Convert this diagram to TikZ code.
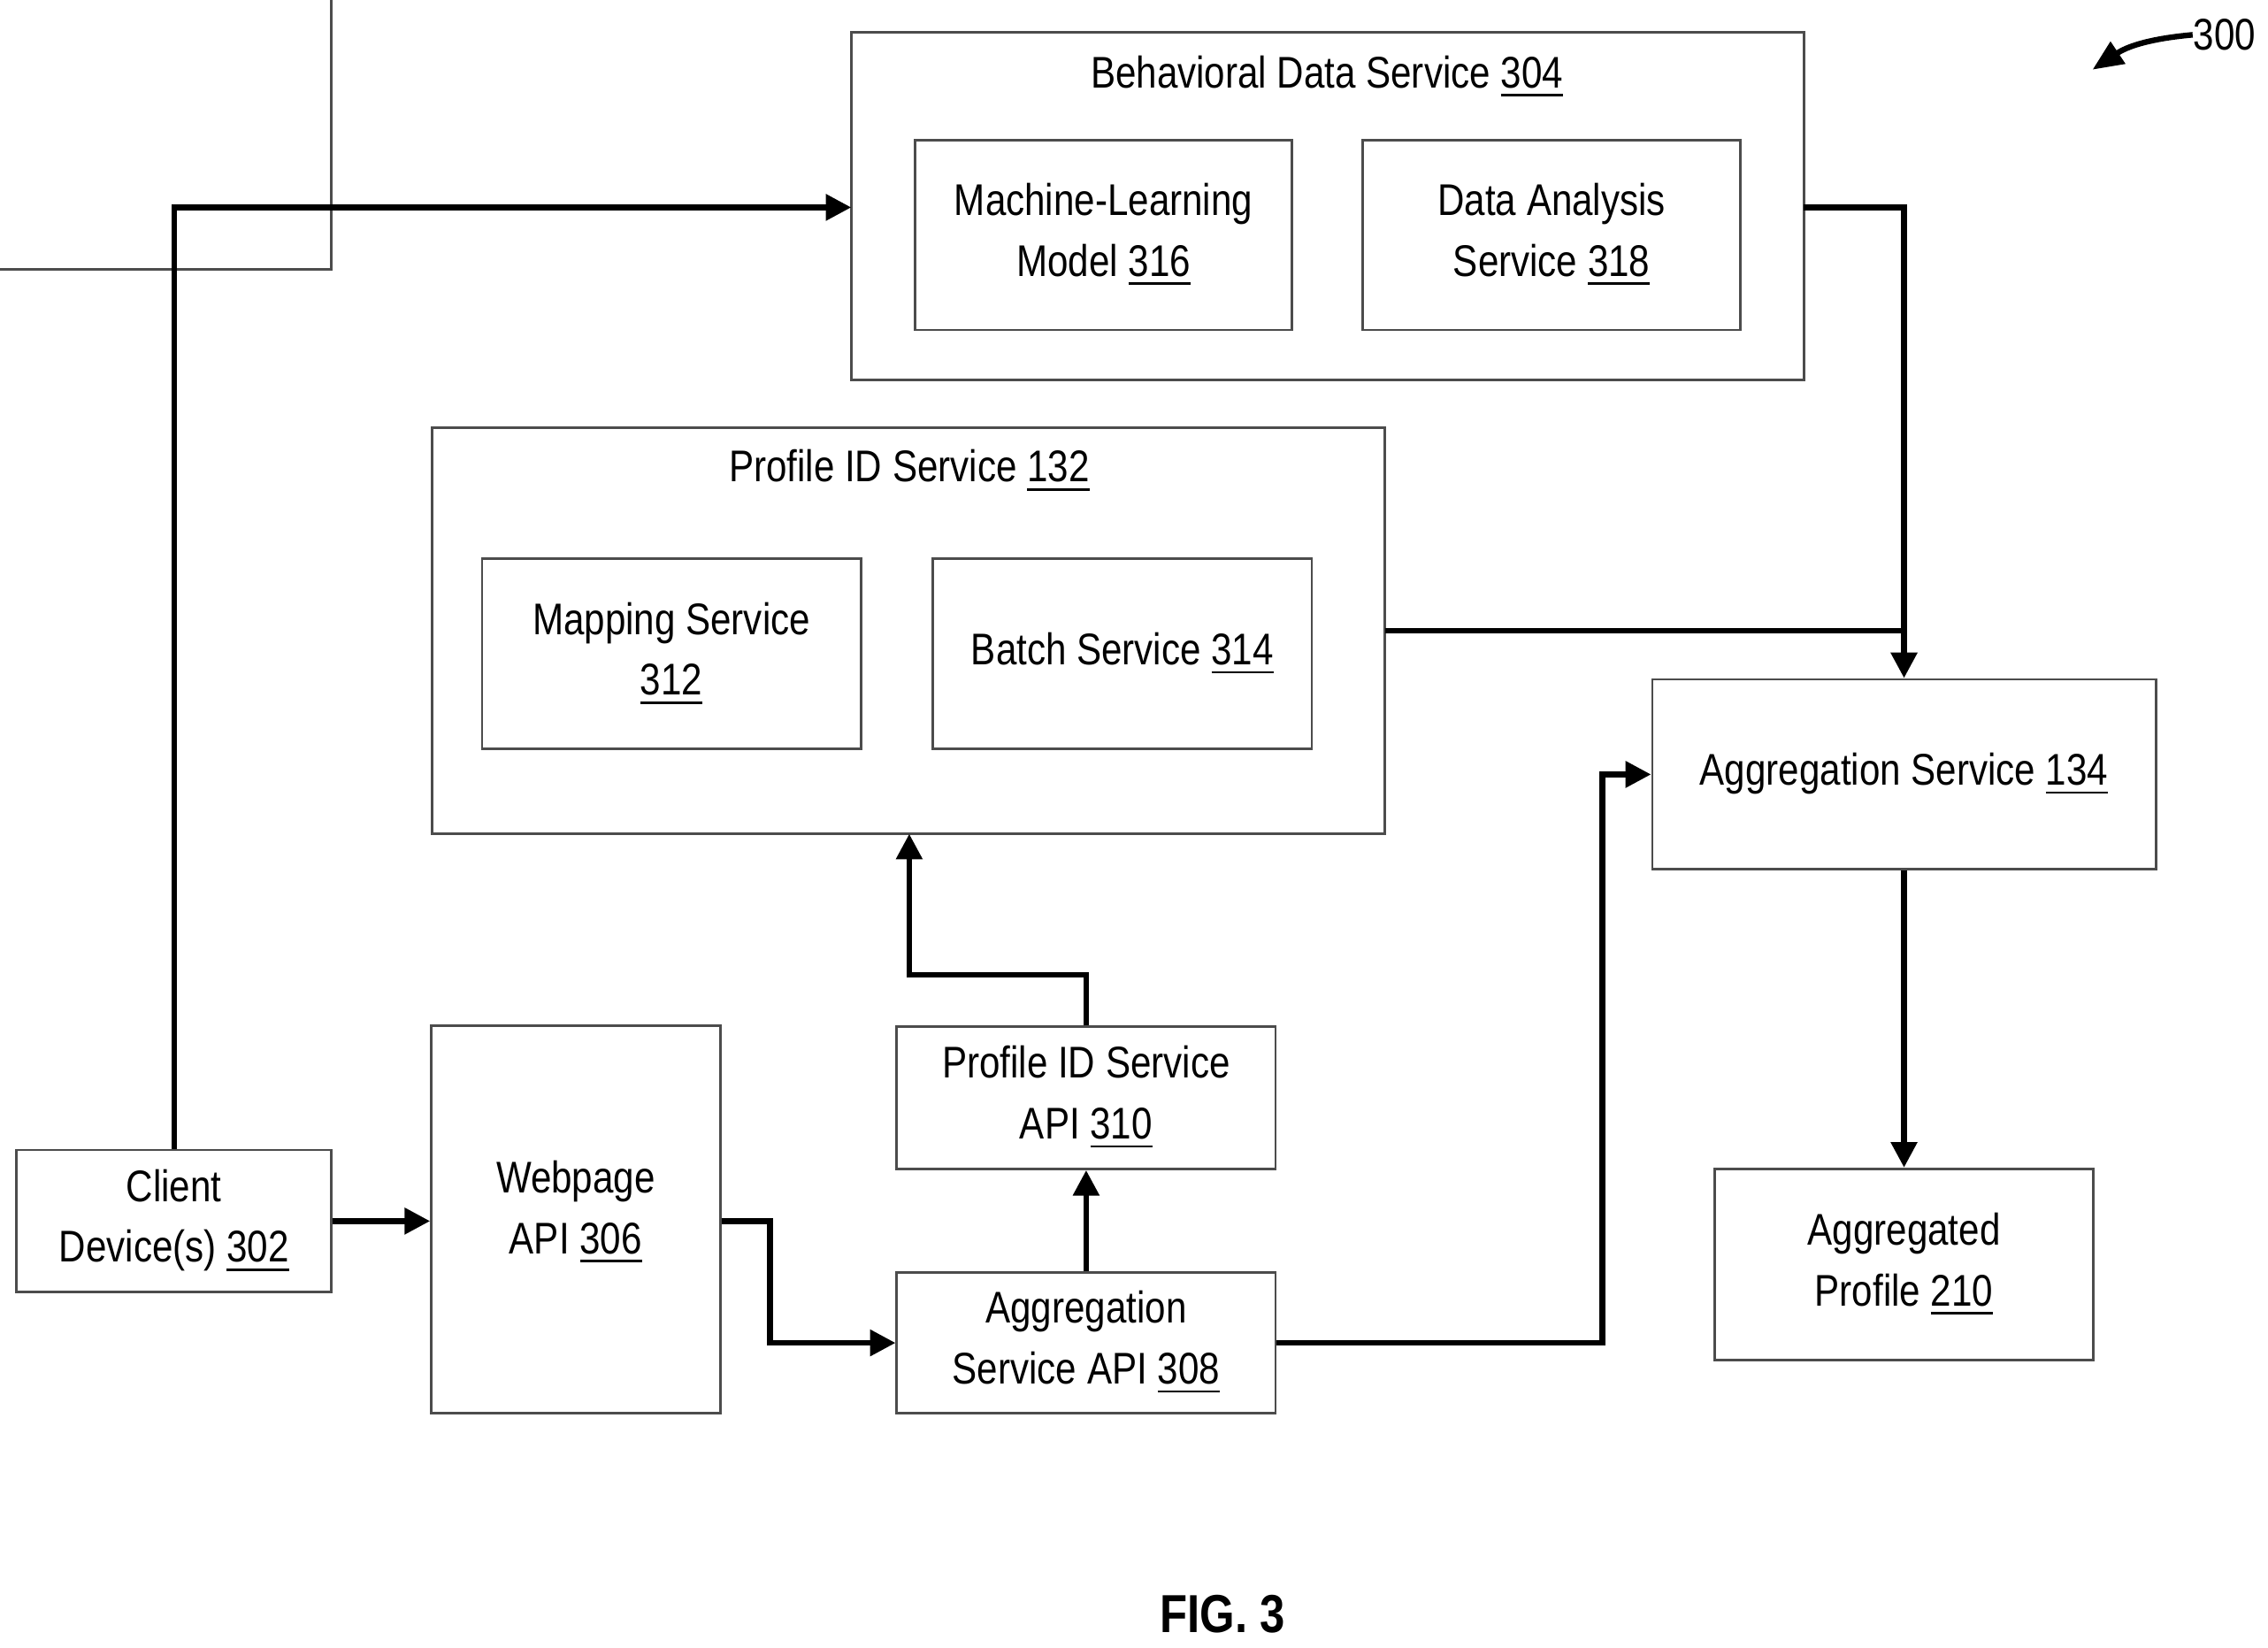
\documentclass[tikz,border=0pt]{standalone}
\usepackage{fontspec}
\setmainfont[FakeStretch=0.84]{Liberation Sans}
\usetikzlibrary{arrows.meta, positioning, calc}
\newcommand{\refn}[1]{\underline{#1}}
\tikzset{
  box/.style={draw=black!70, line width=0.5pt, align=center, inner sep=2pt},
  lbl/.style={align=center, inner sep=0pt},
  flow/.style={line width=1.1pt, -{Triangle[length=5pt, width=5pt]}},
  plain/.style={line width=1.1pt}
}
\begin{document}
\begin{tikzpicture}[x=0.01cm, y=-0.01cm, font=\fontsize{8.7}{11.9}\selectfont]
  \useasboundingbox (0,0) rectangle (1564,1136);
  % outer service boxes
  \draw[box] (587,22) rectangle (1244,262) coordinate (bdsse);
  \node[lbl] (bdst) at (915,53) {Behavioral Data Service \refn{304}};
  \coordinate (bds) at (915,142);
  \draw[box] (298,295) rectangle (955,575);
  \node[lbl] (pidt) at (627,325) {Profile ID Service \refn{132}};
  % inner boxes
  \node[box, minimum width=260\pgflinewidth, minimum height=3.71cm] at (0,0) {}; 
  \node[box, minimum width=2.6cm, minimum height=1.31cm] (ml) at (761,162) {Machine-Learning\\Model \refn{316}};
  \node[box, minimum width=2.6cm, minimum height=1.31cm] (da) at (1070,162) {Data Analysis\\Service \refn{318}};
  \node[box, minimum width=2.61cm, minimum height=1.31cm] (map) at (463,451) {Mapping Service\\\refn{312}};
  \node[box, minimum width=2.61cm, minimum height=1.31cm] (batch) at (774,451) {Batch Service \refn{314}};
  \node[box, minimum width=3.47cm, minimum height=1.31cm] (aggsvc) at (1313,534) {Aggregation Service \refn{134}};
  \node[box, minimum width=2.61cm, minimum height=1.32cm] (aggprof) at (1313,872) {Aggregated\\Profile \refn{210}};
  \node[box, minimum width=2.17cm, minimum height=0.98cm] (client) at (120,842) {Client\\Device(s) \refn{302}};
  \node[box, minimum width=1.99cm, minimum height=2.67cm] (web) at (397,841) {};
  \node[lbl] (webt) at (397,836) {Webpage\\API \refn{306}};
  \node[box, minimum width=2.61cm, minimum height=0.98cm] (pidapi) at (749,757) {Profile ID Service\\API \refn{310}};
  \node[box, minimum width=2.61cm, minimum height=0.97cm] (aggapi) at (749,926) {Aggregation\\Service API \refn{308}};
  % connectors
  \coordinate (bdsw) at (587,143);
  \coordinate (bdse) at (1244,143);
  \coordinate (pidb) at (627,575);
  \coordinate (pide) at (955,435);
  \draw[flow] (client.north) |- (bdsw);
  \draw[flow] (client.east) -- (web.west |- client.east);
  \draw[flow] (web.east |- client.east) -- (531,842) |- (aggapi.west);
  \draw[flow] (aggapi.north) -- (pidapi.south);
  \draw[flow] (pidapi.north) -- (749,672) -| (pidb);
  \draw[flow] (aggapi.east) -- (1105,926) |- (aggsvc.west);
  \draw[flow] (bdse) -| (aggsvc.north);
  \draw[plain] (pide) -- (1313,435);
  \draw[flow] (aggsvc.south) -- (aggprof.north);
  % figure reference
  \node[lbl, anchor=west] (ref) at (1512,24) {300};
  \draw[line width=1.1pt, -{Triangle[length=6pt, width=5pt]}] (ref.west) .. controls (1490,26) and (1470,30) .. (1443,48);
  \node[lbl, font=\fontsize{10.5}{12}\selectfont\bfseries] (fig) at (843,1113) {FIG. 3};
\end{tikzpicture}
\end{document}
